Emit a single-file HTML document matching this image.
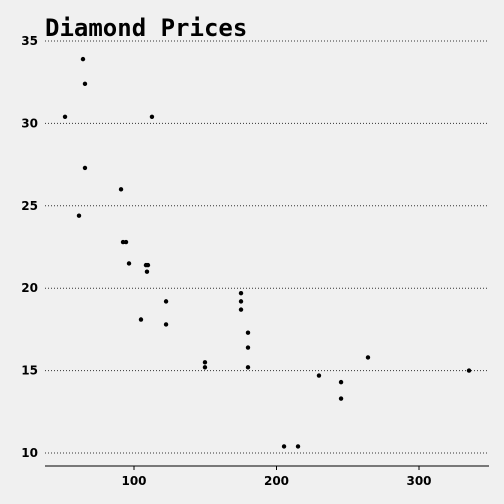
<!DOCTYPE html>
<html><head><meta charset="utf-8"><style>
body{margin:0;background:#f0f0f0;}
svg{display:block;font-family:"DejaVu Sans","Liberation Sans",sans-serif;}
</style></head><body>
<svg id="chart" width="504" height="504" viewBox="0 0 504 504">
<rect width="504" height="504" fill="#f0f0f0"/>
<text x="45" y="36" font-family="DejaVu Sans Mono, Liberation Mono, monospace" font-weight="bold" font-size="24" fill="#000">Diamond Prices</text>
<g id="grid"></g><g id="axes"></g><g id="pts"></g>
</svg>
<script>
const xVals=[64.2,65.6,51.6,112.6,65.6,90.9,61.4,92.3,94.4,96.5,108.4,109.8,109.1,122.5,104.9,122.5,175.1,175.1,175.1,180,180,180,149.8,149.8,229.8,245.3,245.3,264.2,335.1,205.3,215.1];
const yVals=[33.9,32.4,30.4,30.4,27.3,26.0,24.4,22.8,22.8,21.5,21.4,21.4,21.0,19.2,18.1,17.8,19.7,19.2,18.7,17.3,16.4,15.2,15.5,15.2,14.7,14.3,13.3,15.8,15.0,10.4,10.4];
const xTicks=[100,200,300];
const yTicks=[10,15,20,25,30,35];
const NS="http://www.w3.org/2000/svg";
const sx=v=>134+(v-100)*1.425;
const sy=v=>453-(v-10)*16.48;
function mk(t,a,p){const e=document.createElementNS(NS,t);for(const k in a)e.setAttribute(k,a[k]);p.appendChild(e);return e;}
const grid=document.getElementById('grid'),axes=document.getElementById('axes'),pts=document.getElementById('pts');
yTicks.forEach(v=>{
 const l=mk('line',{x1:45,x2:489,y1:sy(v),y2:sy(v),stroke:'#333','stroke-width':1,'stroke-dasharray':'1,2'},grid);
 
 
 const t=mk('text',{x:38,y:sy(v)+4,'text-anchor':'end','font-size':12,'font-weight':'bold'},axes);
 t.textContent=v;
 
 
});
const ax=mk('line',{x1:45,x2:489,y1:466,y2:466,stroke:'#000','stroke-width':1},axes);


xTicks.forEach(v=>{
 const tk=mk('line',{x1:sx(v),x2:sx(v),y1:466,y2:470,stroke:'#000'},axes);
 
 
 const t=mk('text',{x:sx(v),y:485,'text-anchor':'middle','font-size':12,'font-weight':'bold'},axes);
 t.textContent=v;
 
 
});
xVals.forEach((x,i)=>{
 const c=mk('circle',{cx:sx(x),cy:sy(yVals[i]),r:2.2,fill:'#000'},pts);
 
 
});
</script>
</body></html>
